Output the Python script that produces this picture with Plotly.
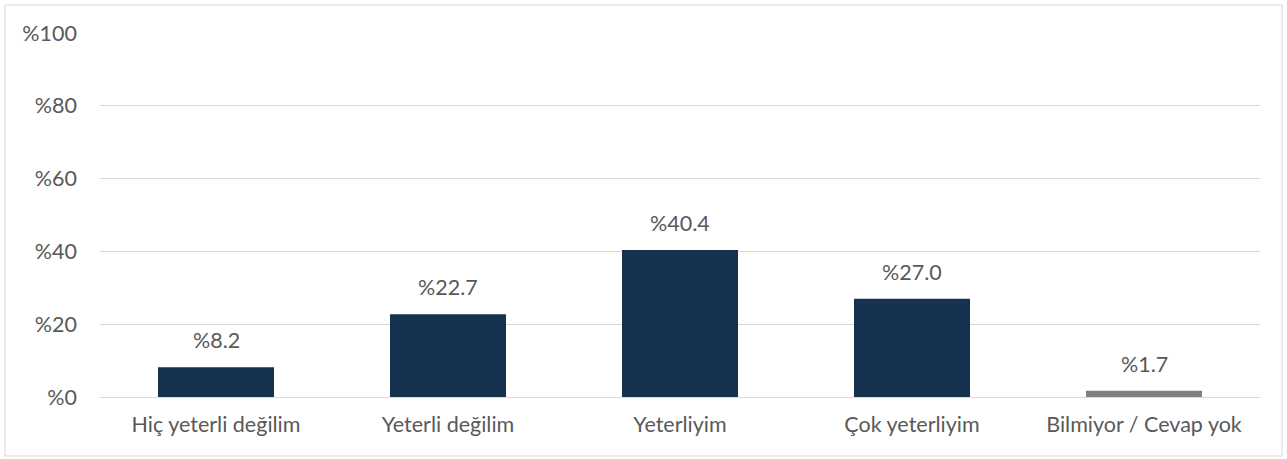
import plotly.graph_objects as go

categories = ["Hiç yeterli değilim", "Yeterli değilim", "Yeterliyim", "Çok yeterliyim", "Bilmiyor / Cevap yok"]
values = [8.2, 22.7, 40.4, 27.0, 1.7]
bar_colors = ["#17324F", "#17324F", "#17324F", "#17324F", "#808080"]
tick_values = [0, 20, 40, 60, 80, 100]
tick_labels = [f"%{v}" for v in tick_values]

FONT = "Lato, 'Open Sans', sans-serif"
TEXT = "#595959"
SIZE = 21.5

fig = go.Figure(
    go.Bar(
        x=categories,
        y=values,
        marker=dict(color=bar_colors, line=dict(width=0)),
        hoverinfo="skip",
    )
)

# value labels above each bar
for cat, val in zip(categories, values):
    fig.add_annotation(
        x=cat, y=val, text=f"%{val:.1f}", showarrow=False,
        yanchor="bottom", yshift=12,
        font=dict(family=FONT, size=SIZE, color=TEXT),
    )

# thin frame around the whole chart
fig.add_shape(
    type="rect", xref="paper", yref="paper",
    x0=-0.0819, x1=1.019, y0=-0.162, y1=1.0769,
    line=dict(color="#D9D9D9", width=1), fillcolor="rgba(0,0,0,0)",
)

fig.update_layout(
    width=1287, height=459,
    margin=dict(l=100, r=27, t=33, b=62),
    paper_bgcolor="white", plot_bgcolor="white",
    bargap=0.5,
    showlegend=False,
    font=dict(family=FONT, size=SIZE, color=TEXT),
)
fig.update_xaxes(
    showgrid=False, showline=False, zeroline=False,
    ticks="", ticklabelstandoff=12,
    tickfont=dict(family=FONT, size=SIZE, color=TEXT),
)
fig.update_yaxes(
    range=[0, 100], tickvals=tick_values, ticktext=tick_labels,
    showgrid=True, gridcolor="#D9D9D9", gridwidth=1,
    zeroline=True, zerolinecolor="#D9D9D9", zerolinewidth=1,
    showline=False, ticks="", ticklabelstandoff=22,
    tickfont=dict(family=FONT, size=SIZE, color=TEXT),
)

fig.write_html("out.html")
